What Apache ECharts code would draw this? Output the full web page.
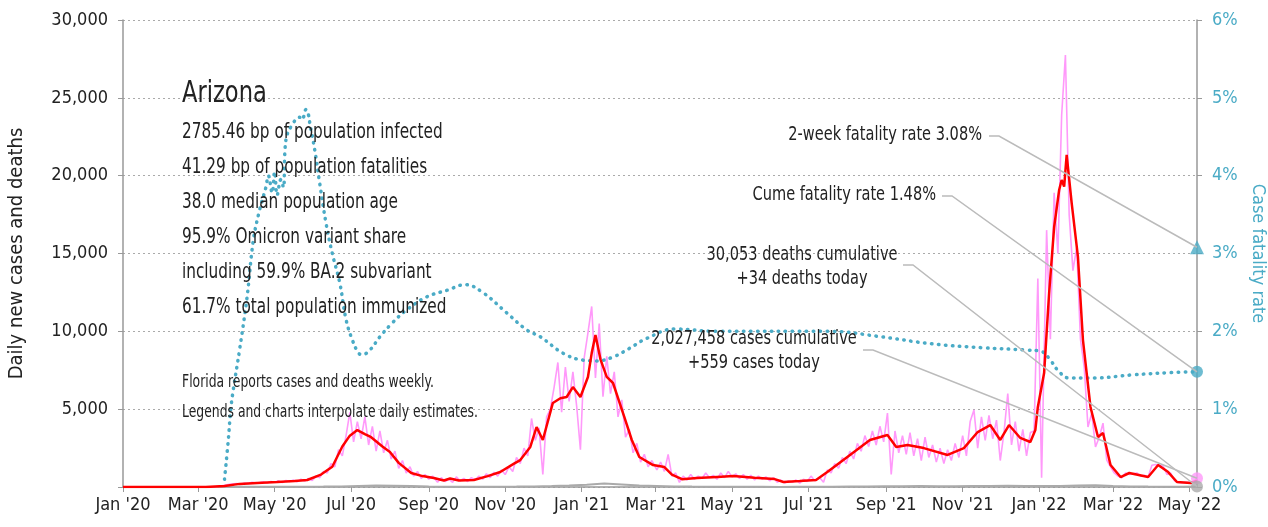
<!DOCTYPE html>
<html>
<head>
<meta charset="utf-8">
<script src="https://cdn.jsdelivr.net/npm/echarts@6/dist/echarts.min.js"></script>
<style>
html,body{margin:0;padding:0;background:#fff;}
#main{width:1268px;height:527px;}
</style>
</head>
<body>
<div id="main"></div>
<script>
var FONT = "'Liberation Sans Narrow','DejaVu Sans Condensed',sans-serif";

// x axis ticks
var tickDates = ['2020-01-01','2020-03-01','2020-05-01','2020-07-01','2020-09-01','2020-11-01',
  '2021-01-01','2021-03-01','2021-05-01','2021-07-01','2021-09-01','2021-11-01',
  '2022-01-01','2022-03-01','2022-05-01'];
var tickLabels = ["Jan '20","Mar '20","May '20","Jul '20","Sep '20","Nov '20",
  "Jan '21","Mar '21","May '21","Jul '21","Sep '21","Nov '21",
  "Jan '22","Mar '22","May '22"];
var lastDate = '2022-05-07';

// daily new cases, one value every 3 days, per stretch
var caseStarts = ['2020-03-05','2020-05-25','2020-09-08','2020-11-01','2021-03-02','2021-07-10','2022-01-07'];
var casesSpring20 = [0,0,5,20,40,80,120,170,200,230,180,260,220,300,240,280,330,250,350,300,400,280,420,350,450,330,500];
var casesSummer20 = [380,550,420,700,600,1000,900,1500,1300,2400,2000,3300,4800,2900,4200,3100,4500,2700,3900,2300,3600,2200,3000,1800,2300,1200,1700,900,1300,700,1000,550,800,500,700];
var casesFall20 = [300,600,350,500,300,650,400,550,350,600,450,700,500,850,600,950,700,1100];
var casesWinter20 = [800,1300,1000,1900,1500,2500,2000,4400,3000,3800,800,4500,5000,6400,8000,4800,7700,5500,7400,5200,2400,8300,9900,11600,7000,10500,5800,8400,6000,7400,4500,5600,3200,3700,2200,2800,1600,2100,1300,1700];
var casesSpring21 = [1100,1600,1000,2100,700,900,300,700,450,800,500,700,550,900,600,750,500,900,600,1000,650,850,550,800,500,750,450,700,500,650,400,600,300,450,250,400,300,450,250,500,350,700,400];
var casesDelta21 = [600,300,1100,900,1500,1200,1900,1500,2300,1800,2800,2300,3300,2600,3600,2700,3900,2900,4750,800,3600,2200,3300,2100,3500,2000,3100,1700,3200,1900,2700,1600,2500,1500,2400,1700,2800,1900,3300,2000,4200,4950,2500,4500,3000,4600,3100,4300,1700,3500,6000,2700,4200,2300,3700,2000,3500,3600,13400,600];
var casesOmicron22 = [16500,9500,18900,15000,23900,27750,17500,13900,15400,9500,7700,3850,4750,2570,3200,4100,1730,1300,900,700,600,900,800,850,900,700,750,650,1400,1450,1400,1350,800,900,400,300,280,300,290,320,559];
var caseSegs = [casesSpring20,casesSummer20,casesFall20,casesWinter20,casesSpring21,casesDelta21,casesOmicron22];

// 7-day average of cases
var avgDates = ['2020-01-01','2020-03-07','2020-03-22','2020-04-03','2020-04-17','2020-05-03','2020-05-17','2020-05-27',
  '2020-06-07','2020-06-16','2020-06-24','2020-06-30','2020-07-06','2020-07-12','2020-07-17','2020-07-26','2020-08-01',
  '2020-08-08','2020-08-18','2020-08-27','2020-09-05','2020-09-13','2020-09-18','2020-09-25','2020-10-07','2020-10-18',
  '2020-10-28','2020-11-08','2020-11-13','2020-11-21','2020-11-26','2020-12-01','2020-12-09','2020-12-15','2020-12-20',
  '2020-12-25','2020-12-31','2021-01-06','2021-01-09','2021-01-12','2021-01-16','2021-01-21','2021-01-26','2021-02-04',
  '2021-02-10','2021-02-16','2021-02-27','2021-03-08','2021-03-14','2021-03-22','2021-04-03','2021-04-19','2021-05-02',
  '2021-05-19','2021-06-04','2021-06-11','2021-06-24','2021-07-07','2021-07-16','2021-08-01','2021-08-19','2021-09-02',
  '2021-09-09','2021-09-18','2021-10-01','2021-10-20','2021-11-02','2021-11-13','2021-11-23','2021-12-01','2021-12-08',
  '2021-12-17','2021-12-25','2021-12-29','2021-12-31','2022-01-05','2022-01-09','2022-01-13','2022-01-17','2022-01-19',
  '2022-01-21','2022-01-23','2022-01-27','2022-02-01','2022-02-05','2022-02-11','2022-02-17','2022-02-21','2022-02-27',
  '2022-03-07','2022-03-14','2022-03-29','2022-04-06','2022-04-14','2022-04-21','2022-05-02','2022-05-07'];
var avgVals = [0,0,60,200,260,320,380,450,
  800,1300,2600,3300,3660,3400,3200,2600,2250,
  1550,900,700,580,420,550,420,450,700,
  960,1500,1730,2570,3850,3020,5400,5700,5780,
  6420,5780,7070,8600,9760,8200,7070,6680,4500,
  3020,1930,1410,1280,800,500,580,650,700,
  600,510,320,380,450,960,1930,3020,3340,
  2570,2700,2500,2060,2500,3530,3980,3020,3980,
  3150,2890,3660,5140,7320,12460,16700,19080,19720,
  19300,21330,18240,14780,9440,5140,3210,3470,1410,
  640,900,640,1410,960,320,260,400];

// daily deaths, one value every 14 days
var deathsStart = '2020-03-17';
var deathsVals = [2,10,20,15,20,18,25,40,70,100,80,60,30,20,12,15,20,25,40,60,90,150,220,160,100,70,40,25,
  15,12,12,10,8,10,12,15,25,35,45,50,60,55,50,60,70,80,70,60,70,90,110,70,40,25,20,15];

// case fatality rate, percent
var cfrDates = ['2020-03-22','2020-03-25','2020-03-27','2020-03-29','2020-04-03','2020-04-09','2020-04-14','2020-04-19',
  '2020-04-24','2020-04-26','2020-04-29','2020-05-01','2020-05-03','2020-05-06','2020-05-08','2020-05-10','2020-05-16',
  '2020-05-21','2020-05-23','2020-05-26','2020-05-28','2020-05-29','2020-06-02','2020-06-06','2020-06-11','2020-06-16',
  '2020-06-22','2020-06-27','2020-07-02','2020-07-07','2020-07-10','2020-07-16','2020-07-24','2020-08-03','2020-08-14',
  '2020-08-30','2020-09-16','2020-09-30','2020-10-14','2020-11-02','2020-11-18','2020-11-29','2020-12-17','2021-01-02',
  '2021-01-13','2021-01-26','2021-02-08','2021-02-22','2021-03-16','2021-04-19','2021-07-18','2021-08-28','2021-10-07',
  '2021-11-16','2021-12-21','2022-01-03','2022-01-10','2022-01-17','2022-01-25','2022-02-14','2022-03-16','2022-04-16',
  '2022-05-07'];
var cfrVals = [0.1,0.6,1.0,1.25,1.76,2.44,3.17,3.56,
  3.85,4.0,3.78,4.05,3.75,3.95,3.85,4.46,4.68,
  4.75,4.72,4.85,4.78,4.68,4.33,3.9,3.39,3.0,
  2.62,2.15,1.89,1.72,1.70,1.76,1.93,2.11,2.27,
  2.44,2.53,2.6,2.5,2.24,2.02,1.93,1.72,1.63,
  1.62,1.67,1.78,1.91,2.03,2.0,2.0,1.93,1.84,
  1.79,1.76,1.74,1.63,1.48,1.40,1.40,1.44,1.47,
  1.48];

var todayCases = 559, todayDeaths = 34, cumeCfr = 1.48, twoWeekCfr = 3.08;

var infoLines = ['2785.46 bp of population infected','41.29 bp of population fatalities','38.0 median population age',
  '95.9% Omicron variant share','including 59.9% BA.2 subvariant','61.7% total population immunized'];
var noteLines = ['Florida reports cases and deaths weekly.','Legends and charts interpolate daily estimates.'];

var PINK = '#ff99fa', RED = '#ff0000', TEAL = '#4aabc6', GRAY = '#aaaaaa';

function day(s){
	var p = s.split('-');
	return (Date.UTC(+p[0], +p[1]-1, +p[2]) - Date.UTC(2020,0,1)) / 86400000;
}
var tickDays = tickDates.map(day);
var endDay = day(lastDate);

var caseData = [];
for (var s = 0; s < caseSegs.length; s++) {
	var d0 = day(caseStarts[s]);
	for (var i = 0; i < caseSegs[s].length; i++) caseData.push([d0 + 3*i, caseSegs[s][i]]);
}
caseData[caseData.length-1][0] = endDay;
var avgData = avgDates.map(function(d,i){ return [day(d), avgVals[i]]; });
var deathData = deathsVals.map(function(v,i){ return [day(deathsStart) + 14*i, v]; });
deathData.push([endDay, todayDeaths]);
var cfrData = cfrDates.map(function(d,i){ return [day(d), cfrVals[i]]; });

var chart = echarts.init(document.getElementById('main'));
var option = {
	animation: false,
	textStyle: {fontFamily: FONT},
	grid: {left: 123, right: 71, top: 20, bottom: 40, outerBoundsMode: 'none', containLabel: false},
	xAxis: {
		type: 'value', min: 0, max: endDay,
		axisLine: {lineStyle: {color: '#999', width: 1.5}},
		axisTick: {customValues: tickDays, length: 5, lineStyle: {color: '#999'}},
		axisLabel: {customValues: tickDays, margin: 9, color: '#222', fontSize: 18, fontFamily: FONT,
			formatter: function(v){ var k = tickDays.indexOf(v); return k < 0 ? '' : tickLabels[k]; }},
		splitLine: {show: false}
	},
	yAxis: [{
		type: 'value', min: 0, max: 30000, interval: 5000,
		name: 'Daily new cases and deaths', nameLocation: 'middle', nameGap: 96, nameRotate: 90,
		nameTextStyle: {color: '#222', fontSize: 20, fontFamily: FONT},
		axisLine: {show: true, lineStyle: {color: '#999', width: 1.5}},
		axisTick: {show: true, length: 5, lineStyle: {color: '#999'}},
		axisLabel: {margin: 15, color: '#222', fontSize: 18, fontFamily: FONT,
			formatter: function(v){ return v === 0 ? '' : v.toLocaleString('en-US'); }},
		splitLine: {show: true, lineStyle: {color: '#aaa', type: [2,3], width: 1}}
	},{
		type: 'value', min: 0, max: 6, interval: 1, position: 'right',
		name: 'Case fatality rate', nameLocation: 'middle', nameGap: 48, nameRotate: -90,
		nameTextStyle: {color: TEAL, fontSize: 18, fontFamily: FONT},
		axisLine: {show: true, lineStyle: {color: '#999', width: 1.5}},
		axisTick: {show: true, length: 5, lineStyle: {color: '#999'}},
		axisLabel: {margin: 15, color: TEAL, fontSize: 18, fontFamily: FONT,
			formatter: function(v){ return v + '%'; }},
		splitLine: {show: false}
	}],
	series: [
		{type: 'line', data: caseData, symbol: 'none', z: 2,
			lineStyle: {color: PINK, width: 1.6}},
		{type: 'line', data: deathData, symbol: 'none', z: 2,
			lineStyle: {color: GRAY, width: 2}},
		{type: 'line', data: avgData, symbol: 'none', z: 4,
			lineStyle: {color: RED, width: 2.5}},
		{type: 'line', data: cfrData, yAxisIndex: 1, symbol: 'none', smooth: 0.4, z: 3,
			lineStyle: {color: TEAL, width: 3.5, type: [0.5, 6.5], cap: 'round'}},
		{type: 'scatter', data: [[endDay, todayCases]], symbol: 'circle', symbolSize: 12, z: 6,
			itemStyle: {color: PINK}},
		{type: 'scatter', data: [[endDay, todayDeaths]], symbol: 'circle', symbolSize: 12, z: 6,
			itemStyle: {color: GRAY}},
		{type: 'scatter', yAxisIndex: 1, data: [[endDay, cumeCfr]], symbol: 'circle', symbolSize: 12, z: 6,
			itemStyle: {color: TEAL}},
		{type: 'scatter', yAxisIndex: 1, data: [[endDay, twoWeekCfr]], symbol: 'triangle', symbolSize: 14, z: 6,
			itemStyle: {color: TEAL}}
	]
};
chart.setOption(option);

// annotation texts and leader lines
var SX = 0.81; // condense the wide fallback font
function px(yIdx, v){ return chart.convertToPixel({xAxisIndex: 0, yAxisIndex: yIdx}, [endDay, v]); }
var g = [];
function txt(str, x, y, size, align){
	g.push({type: 'text', z: 50, x: x, y: y, scaleX: SX, style: {text: str, x: 0, y: 0, fill: '#222',
		font: size + 'px ' + FONT, align: align || 'left', verticalAlign: 'middle', lineHeight: 24}});
}
function leader(x0, y0, end){
	g.push({type: 'polyline', z: 40, shape: {points: [[x0, y0], [x0 + 10, y0], end]},
		style: {stroke: '#bbb', lineWidth: 1.5, fill: null}});
}
txt('Arizona', 182, 94, 31);
for (var k = 0; k < infoLines.length; k++) txt(infoLines[k], 182, 133 + k*35, 21);
txt(noteLines[0], 182, 383, 17);
txt(noteLines[1], 182, 413, 17);

txt('2-week fatality rate ' + twoWeekCfr.toFixed(2) + '%', 982, 135, 20, 'right');
leader(989, 136, px(1, twoWeekCfr));
txt('Cume fatality rate ' + cumeCfr.toFixed(2) + '%', 936, 195, 20, 'right');
leader(942, 196, px(1, cumeCfr));
txt('30,053 deaths cumulative\n+' + todayDeaths + ' deaths today', 802, 267, 20, 'center');
leader(903, 265, px(0, todayDeaths));
txt('2,027,458 cases cumulative\n+' + todayCases + ' cases today', 754, 351, 20, 'center');
leader(863, 350, px(0, todayCases));
chart.setOption({graphic: g});
</script>
</body>
</html>
